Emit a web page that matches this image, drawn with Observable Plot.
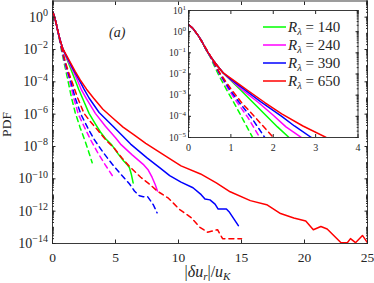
<!DOCTYPE html>
<html><head><meta charset="utf-8">
<script src="https://cdn.jsdelivr.net/npm/d3@7"></script>
<script src="https://cdn.jsdelivr.net/npm/@observablehq/plot@0.6"></script>
<style>
body{margin:0;background:#fff;}
#wrap{position:relative;width:374px;height:283px;}
#inset{position:absolute;left:160px;top:0;width:214px;}
</style></head><body><div id="wrap"><div id="main"></div><div id="inset"></div></div>
<script>
// ---- data ----
const reLabels = ["140", "240", "390", "650"];
const reColors = ["#00ff00", "#ff00ff", "#0000ff", "#ff0000"];

// solid curves
const x140s = [0,0.1,0.2,0.3,0.4,0.5,0.6,0.7,0.82,1.0,1.2,1.5,1.8,2.1,2.4,2.9,3.4,3.8,4.2,4.7,5.25,5.65,5.95,6.1,6.25,6.4];
const pdf140s = [2.19,1.45,0.79,0.40,0.16,0.076,0.040,0.022,0.0112,5.0e-3,2.0e-3,5.0e-4,1.26e-4,3.16e-5,8.9e-6,1.12e-6,2.5e-7,7.9e-8,3.16e-8,1.26e-8,3.16e-9,1.26e-9,7.1e-10,5.0e-10,2.0e-10,5.6e-11];
const x240s = [0,0.1,0.2,0.3,0.4,0.5,0.6,0.7,0.82,1.0,1.3,1.65,2.0,2.3,2.7,3.4,4.2,5.0,5.4,6.3,7.2,7.6,7.9,8.15,8.33];
const pdf240s = [2.19,1.45,0.79,0.40,0.16,0.076,0.040,0.022,0.0112,5.2e-3,1.58e-3,4.5e-4,1.12e-4,3.16e-5,8.9e-6,1.12e-6,1.78e-7,3.5e-8,1.41e-8,3.16e-9,7.9e-10,3.5e-10,1.26e-10,4.5e-11,1.78e-11];
const x390s = [0,0.1,0.2,0.3,0.4,0.5,0.6,0.7,0.82,1.0,1.3,1.7,2.2,2.5,2.9,3.7,4.8,6.2,7.5,8.5,9.3,10.2,11.15,11.8,12.1,12.5,12.9,13.15,13.8,14.05,14.75];
const pdf390s = [2.19,1.45,0.79,0.40,0.16,0.076,0.040,0.022,0.0112,5.6e-3,2.0e-3,5.0e-4,1.0e-4,3.5e-5,1.0e-5,1.26e-6,1.78e-7,1.41e-8,2.0e-9,5.0e-10,1.58e-10,6.3e-11,2.8e-11,1.05e-11,5.6e-12,5.0e-12,2.75e-12,1.35e-12,1.35e-12,8.5e-13,1.26e-13];
const x650s = [0,0.1,0.2,0.3,0.4,0.5,0.6,0.7,0.82,1.1,1.4,1.8,2.2,2.7,3.25,4.0,4.8,5.6,6.5,7.4,8.3,9.2,10.2,11.75,13.0,14.1,15.7,17.0,18.1,19.15,20.1,20.7,21.3,21.8,22.9,23.4,23.65,24.05,24.6,25];
const pdf650s = [2.19,1.45,0.79,0.40,0.16,0.076,0.040,0.022,0.0112,4.5e-3,1.66e-3,4.5e-4,1.32e-4,3.5e-5,1.0e-5,2.0e-6,5.6e-7,1.58e-7,5.0e-8,1.58e-8,5.6e-9,2.0e-9,6.3e-10,2.0e-10,5.6e-11,1.58e-11,4.5e-12,2.5e-12,7.1e-13,3.8e-13,2.5e-13,7.1e-14,1.12e-13,7.9e-14,1.12e-14,1.12e-14,2.0e-14,1.12e-14,3.16e-14,1.12e-14];

// dashed curves
const x140d = [0,0.1,0.2,0.3,0.5,0.7,0.9,1.1,1.3,1.5,1.8,2.2,2.6,2.9,3.15];
const pdf140d = [2.19,1.45,0.79,0.38,0.071,0.010,1.78e-3,3.5e-4,6.3e-5,1.12e-5,1.26e-6,1.41e-7,2.0e-8,4.0e-9,1.0e-9];
const x240d = [0,0.1,0.2,0.3,0.5,0.72,0.95,1.15,1.4,1.68,2.05,2.5,3.0,3.6,4.2,4.75];
const pdf240d = [2.19,1.45,0.79,0.38,0.076,0.0112,1.78e-3,4.5e-4,8.9e-5,1.0e-5,1.0e-6,1.78e-7,2.8e-8,4.0e-9,7.1e-10,1.58e-10];
const x390d = [0,0.1,0.2,0.3,0.5,0.72,0.98,1.2,1.5,1.8,2.25,2.8,3.3,4.0,4.7,5.4,6.1,6.5,6.9,7.2,7.55,8.0,8.3];
const pdf390d = [2.19,1.45,0.79,0.38,0.079,0.0117,1.78e-3,4.5e-4,7.9e-5,1.0e-5,1.0e-6,1.41e-7,2.8e-8,4.5e-9,8.9e-10,2.0e-10,5.0e-11,1.78e-11,8.9e-12,7.9e-12,7.9e-12,2.5e-12,7.9e-13];
const x650d = [0,0.1,0.2,0.3,0.5,0.74,1.0,1.25,1.6,2.0,2.5,3.0,3.6,4.3,4.85,5.5,6.2,7.0,7.8,8.3,9.2,10.1,11.0,11.7,12.3,13.1,13.5,15.0];
const pdf650d = [2.19,1.45,0.79,0.38,0.083,0.0112,2.0e-3,4.5e-4,7.9e-5,1.0e-5,1.12e-6,3.5e-7,1.0e-7,2.2e-8,8.7e-9,2.0e-9,5.0e-10,1.26e-10,4.0e-11,1.78e-11,6.3e-12,1.26e-12,4.0e-13,1.0e-13,5.0e-14,7.1e-14,2.0e-14,2.0e-14];

// ticks
const mainXTicks = [0, 5, 10, 15, 20, 25];
const mainYLabelTicks = [1e0, 1e-2, 1e-4, 1e-6, 1e-8, 1e-10, 1e-12, 1e-14];
const insetXTicks = [0, 1, 2, 3, 4];
const insetYLabelTicks = [1e1, 1e0, 1e-1, 1e-2, 1e-3, 1e-4, 1e-5];

// ---- build tables ----
const rows = (xs, ps, re) => xs.map((x, i) => ({x, pdf: ps[i], re}));
const solidRows = [].concat(rows(x140s, pdf140s, "140"), rows(x240s, pdf240s, "240"), rows(x390s, pdf390s, "390"), rows(x650s, pdf650s, "650"));
const dashedRows = [].concat(rows(x140d, pdf140d, "140"), rows(x240d, pdf240d, "240"), rows(x390d, pdf390d, "390"), rows(x650d, pdf650d, "650"));

function minorTicks(lo, hi) {
  const t = [];
  for (let k = lo; k < hi; k++) for (let m = 1; m <= 9; m++) t.push(m * Math.pow(10, k));
  t.push(Math.pow(10, hi));
  return t;
}
const mainMinor = minorTicks(-14, 1);
const insetMinor = minorTicks(-5, 1);
const expFormat = d => { const e = Math.round(Math.log10(d)); return (e < 0 ? "\u2212" : "") + Math.abs(e); };
const intFormat = d => String(d);
const ink = "#262626";

function curveMarks(dash) {
  return [
    Plot.line(solidRows, {x: "x", y: "pdf", z: "re", stroke: "re", strokeWidth: 1.5, clip: true}),
    Plot.line(dashedRows, {x: "x", y: "pdf", z: "re", stroke: "re", strokeWidth: 1.5, strokeDasharray: dash, clip: true})
  ];
}

const mainSvg = Plot.plot({
  width: 374, height: 283,
  marginLeft: 52, marginRight: 7, marginTop: 0.5, marginBottom: 40,
  style: {fontFamily: "'Liberation Serif', serif", color: ink, background: "white"},
  x: {domain: [0, 25], label: null},
  y: {type: "log", domain: [1e-14, 10], label: null},
  color: {domain: reLabels, range: reColors},
  marks: [
    ...curveMarks("5,4"),
    Plot.frame({stroke: ink, strokeWidth: 0.9}),
    Plot.axisX({anchor: "bottom", ticks: mainXTicks, tickSize: -3.5, fill: "none", label: null}),
    Plot.axisX({anchor: "top", ticks: mainXTicks, tickSize: -3.5, fill: "none", label: null}),
    Plot.axisX({anchor: "bottom", ticks: mainXTicks, tickSize: 0, tickPadding: 9, tickFormat: intFormat, fontSize: 13.5, label: null}),
    Plot.axisY({anchor: "left", ticks: mainYLabelTicks, tickSize: -3.5, fill: "none", label: null}),
    Plot.axisY({anchor: "left", ticks: mainMinor, tickSize: -2, fill: "none", label: null}),
    Plot.axisY({anchor: "right", ticks: mainYLabelTicks, tickSize: -3.5, fill: "none", label: null}),
    Plot.axisY({anchor: "right", ticks: mainMinor, tickSize: -2, fill: "none", label: null}),
    Plot.axisY({anchor: "left", ticks: mainYLabelTicks, tickSize: 0, tickPadding: 4.5, tickFormat: expFormat, fontSize: 14, label: null}),
    Plot.text(["(a)"], {frameAnchor: "top-left", dx: 56.5, dy: 26, text: d => d, fontStyle: "italic", fontSize: 14, fill: ink})
  ]
});

const insetSvg = Plot.plot({
  width: 214, height: 160,
  marginLeft: 28, marginRight: 16.5, marginTop: 10, marginBottom: 23,
  style: {fontFamily: "'Liberation Serif', serif", color: ink, background: "none"},
  x: {domain: [0, 4], label: null},
  y: {type: "log", domain: [1e-5, 10], label: null},
  color: {domain: reLabels, range: reColors},
  marks: [
    Plot.frame({fill: "white", stroke: null}),
    ...curveMarks("5,4"),
    Plot.frame({stroke: ink, strokeWidth: 0.9}),
    Plot.axisX({anchor: "bottom", ticks: insetXTicks, tickSize: -3, fill: "none", label: null}),
    Plot.axisX({anchor: "top", ticks: insetXTicks, tickSize: -3, fill: "none", label: null}),
    Plot.axisX({anchor: "bottom", ticks: insetXTicks, tickSize: 0, tickPadding: 6, tickFormat: intFormat, fontSize: 10, label: null}),
    Plot.axisY({anchor: "left", ticks: insetYLabelTicks, tickSize: -3, fill: "none", label: null}),
    Plot.axisY({anchor: "left", ticks: insetMinor, tickSize: -1.8, fill: "none", label: null}),
    Plot.axisY({anchor: "right", ticks: insetYLabelTicks, tickSize: -3, fill: "none", label: null}),
    Plot.axisY({anchor: "right", ticks: insetMinor, tickSize: -1.8, fill: "none", label: null}),
    Plot.axisY({anchor: "left", ticks: insetYLabelTicks, tickSize: 0, tickPadding: 2.5, tickFormat: expFormat, fontSize: 9.5, label: null})
  ]
});

function superscripts(svg, base, sup) {
  d3.select(svg).selectAll('g[aria-label="y-axis tick label"] text').each(function () {
    const e = this.textContent;
    const t = d3.select(this);
    t.text(null);
    t.append("tspan").attr("font-size", base).text("10");
    t.append("tspan").attr("font-size", sup).attr("dy", "-0.55em").text(e);
  });
}
superscripts(mainSvg, 14, 10);
superscripts(insetSvg, 9.5, 7);

// axis titles
const ms = d3.select(mainSvg);
const xl = ms.append("text").attr("x", 207.5).attr("y", 277).attr("text-anchor", "middle")
  .attr("font-size", 16).attr("fill", ink);
xl.append("tspan").text("|");
xl.append("tspan").attr("font-style", "italic").text("\u03b4u");
xl.append("tspan").attr("font-style", "italic").attr("font-size", 11).attr("dy", 3).text("r");
xl.append("tspan").attr("dy", -3).text("|/");
xl.append("tspan").attr("font-style", "italic").text("u");
xl.append("tspan").attr("font-style", "italic").attr("font-size", 11).attr("dy", 3).text("K");
ms.append("text").attr("transform", "translate(10.5,124.5) rotate(-90)").attr("text-anchor", "middle")
  .attr("font-size", 13.5).attr("fill", ink).text("PDF");

// legend inside inset
const is = d3.select(insetSvg);
const lg = is.append("g").attr("text-anchor", "start");
reLabels.forEach((re, i) => {
  const y = 27 + i * 18;
  lg.append("line").attr("x1", 103).attr("x2", 126).attr("y1", y).attr("y2", y)
    .attr("stroke", reColors[i]).attr("stroke-width", 1.5);
  const t = lg.append("text").attr("x", 128).attr("y", y + 5).attr("text-anchor", "start")
    .attr("font-size", 15).attr("fill", ink);
  t.append("tspan").attr("font-style", "italic").text("R");
  t.append("tspan").attr("font-style", "italic").attr("font-size", 10.5).attr("dy", 3).text("\u03bb");
  t.append("tspan").attr("dy", -3).text(" = " + re);
});

document.getElementById("main").appendChild(mainSvg);
document.getElementById("inset").appendChild(insetSvg);
</script></body></html>
